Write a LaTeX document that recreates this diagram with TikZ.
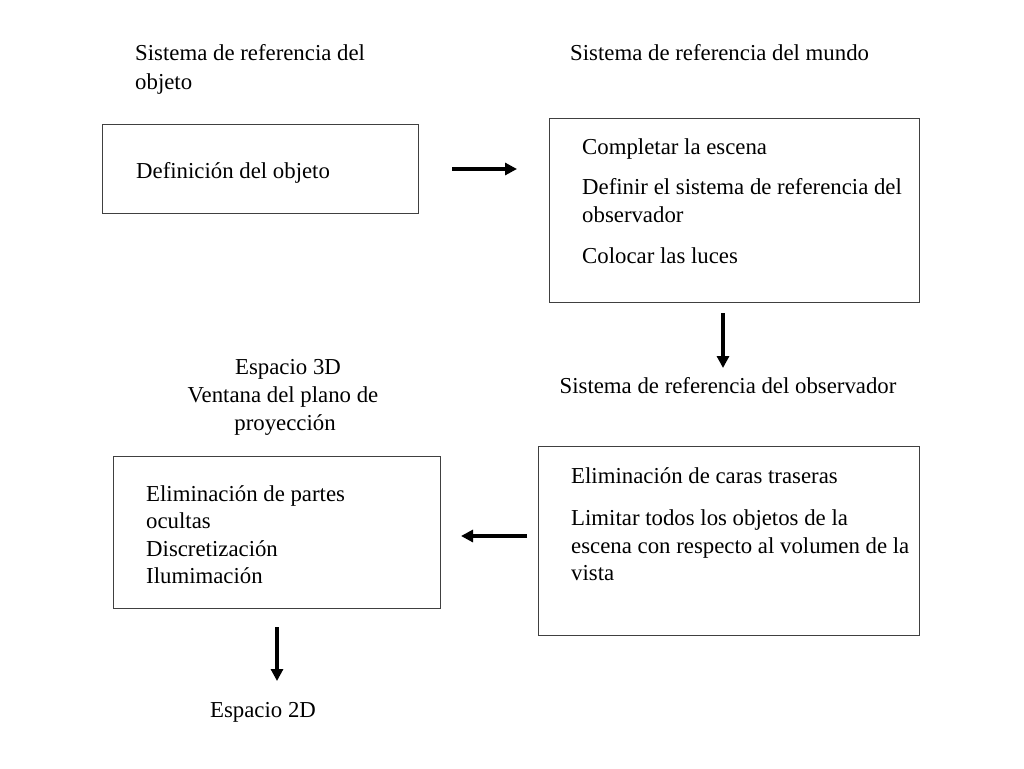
\documentclass[tikz,border=0pt]{standalone}
\usepackage{fontspec}
\setmainfont{Liberation Serif}
\usetikzlibrary{arrows.meta}
\begin{document}
\begin{tikzpicture}[x=1pt,y=-1pt,
  lbl/.style={anchor=base west,inner sep=0pt,font=\fontsize{22.8}{28}\selectfont},
  clbl/.style={anchor=base,inner sep=0pt,font=\fontsize{22.8}{28}\selectfont},
  box/.style={draw=black!75,line width=1pt},
  arr/.style={line width=3.2pt,-{Triangle[length=12pt,width=12pt]}}]
\useasboundingbox (0,0) rectangle (1024,768);
\node[lbl] (t1a) at (135,60) {Sistema de referencia del};
\node[lbl] (t1b) at (135,89) {objeto};
\node[lbl] (t2) at (570,60) {Sistema de referencia del mundo};
\draw[box] (102,124) rectangle (418,213);
\node[lbl] (b1) at (136,178) {Definición del objeto};
\draw[box] (549,118) rectangle (919,302);
\node[lbl] (b2a) at (582,154) {Completar la escena};
\node[lbl] (b2b) at (582,194) {Definir el sistema de referencia del};
\node[lbl] (b2c) at (582,222) {observador};
\node[lbl] (b2d) at (582,263) {Colocar las luces};
\node[clbl] (t3) at (728,393) {Sistema de referencia del observador};
\draw[box] (538,446) rectangle (919,635);
\node[lbl] (b3a) at (571,483) {Eliminación de caras traseras};
\node[lbl] (b3b) at (571,525) {Limitar todos los objetos de la};
\node[lbl] (b3c) at (571,553) {escena con respecto al volumen de la};
\node[lbl] (b3d) at (571,580) {vista};
\node[clbl] (t4a) at (288,374) {Espacio 3D};
\node[clbl] (t4b) at (283,402) {Ventana del plano de};
\node[clbl] (t4c) at (285,430) {proyección};
\draw[box] (113,456) rectangle (440,608);
\node[lbl] (b4a) at (146,501) {Eliminación de partes};
\node[lbl] (b4b) at (146,528) {ocultas};
\node[lbl] (b4c) at (146,556) {Discretización};
\node[lbl] (b4d) at (146,583) {Ilumimación};
\node[clbl] (t5) at (263,717) {Espacio 2D};
\coordinate (a1s) at (452,169); \coordinate (a1e) at (517,169);
\coordinate (a2s) at (723,313); \coordinate (a2e) at (723,368);
\coordinate (a3s) at (527,536); \coordinate (a3e) at (461,536);
\coordinate (a4s) at (277,627); \coordinate (a4e) at (277,681);
\draw[arr] (a1s) -- (a1e);
\draw[arr] (a2s) -- (a2e);
\draw[arr] (a3s) -- (a3e);
\draw[arr] (a4s) -- (a4e);
\end{tikzpicture}
\end{document}
